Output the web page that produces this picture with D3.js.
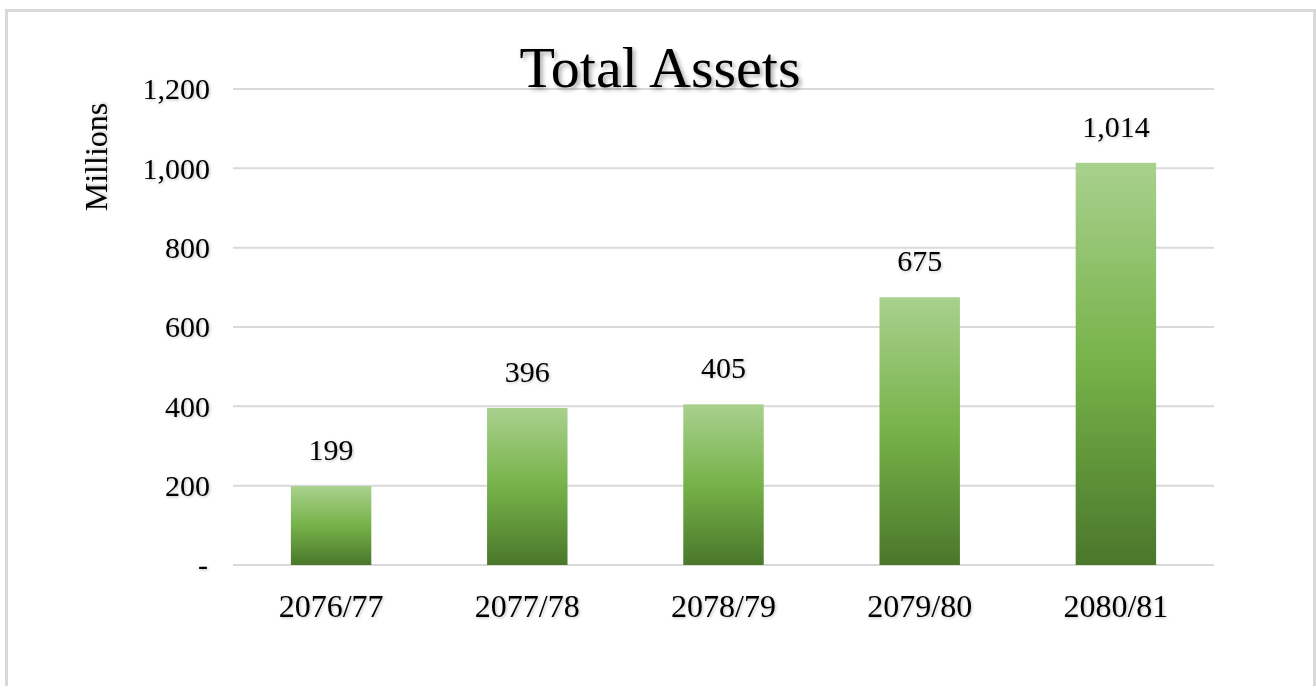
<!DOCTYPE html>
<html>
<head>
<meta charset="utf-8">
<script src="https://cdn.jsdelivr.net/npm/d3@7/dist/d3.min.js"></script>
<style>
  html, body { margin: 0; padding: 0; background: #ffffff; }
  svg { display: block; }
  text { font-family: "Liberation Serif", "DejaVu Serif", serif; fill: #000; }
</style>
</head>
<body>
<svg id="chart" width="1316" height="686"></svg>
<script>
const categories = ["2076/77", "2077/78", "2078/79", "2079/80", "2080/81"];
const values = [199, 396, 405, 675, 1014];
const yTicks = [0, 200, 400, 600, 800, 1000, 1200];
const titleText = "Total Assets";
const yAxisTitle = "Millions";

const W = 1316, H = 686;
const margin = { left: 233, right: 102, top: 89, bottom: 121 };
const svg = d3.select("#chart");

const defs = svg.append("defs");
const grad = defs.append("linearGradient")
  .attr("id", "barGrad").attr("x1", 0).attr("y1", 0).attr("x2", 0).attr("y2", 1);
grad.append("stop").attr("offset", "0%").attr("stop-color", "#a9d18e");
grad.append("stop").attr("offset", "50%").attr("stop-color", "#76b249");
grad.append("stop").attr("offset", "100%").attr("stop-color", "#4a772b");

const fTitle = defs.append("filter").attr("id", "shTitle")
  .attr("x", "-10%").attr("y", "-20%").attr("width", "130%").attr("height", "150%");
fTitle.append("feDropShadow").attr("dx", 2.5).attr("dy", 2.5).attr("stdDeviation", 2)
  .attr("flood-color", "#000").attr("flood-opacity", 0.35);
const fText = defs.append("filter").attr("id", "shText")
  .attr("x", "-20%").attr("y", "-30%").attr("width", "150%").attr("height", "170%");
fText.append("feDropShadow").attr("dx", 1).attr("dy", 1).attr("stdDeviation", 1.5)
  .attr("flood-color", "#000").attr("flood-opacity", 0.25);

// chart border
svg.append("rect")
  .attr("x", 6.5).attr("y", 10.5).attr("width", 1308).attr("height", 700)
  .attr("fill", "none").attr("stroke", "#d9d9d9").attr("stroke-width", 3);

const x = d3.scaleBand().domain(categories)
  .range([margin.left, W - margin.right]).paddingInner(0.59).paddingOuter(0.295);
const y = d3.scaleLinear().domain([0, 1200]).range([H - margin.bottom, margin.top]);

// gridlines
svg.append("g").selectAll("line").data(yTicks).join("line")
  .attr("x1", margin.left).attr("x2", W - margin.right)
  .attr("y1", d => y(d)).attr("y2", d => y(d))
  .attr("stroke", "#d9d9d9").attr("stroke-width", 2);

// y axis labels
const yAxis = d3.axisLeft(y).tickValues(yTicks).tickSize(0).tickPadding(23)
  .tickFormat(d => d === 0 ? "-" : d3.format(",")(d));
const gy = svg.append("g").attr("transform", `translate(${margin.left},0)`).call(yAxis);
gy.select(".domain").remove();
gy.selectAll("text")
  .attr("font-family", "Liberation Serif").attr("font-size", 30).attr("fill", "#000")
  .attr("dy", "0.33em").attr("filter", "url(#shText)");
gy.selectAll(".tick").filter(d => d === 0).select("text").attr("x", -25);

// bars
svg.append("g").selectAll("rect").data(values).join("rect")
  .attr("x", (d, i) => x(categories[i]))
  .attr("width", x.bandwidth())
  .attr("y", d => y(d))
  .attr("height", d => y(0) - y(d))
  .attr("fill", "url(#barGrad)");

// data labels
svg.append("g").selectAll("text").data(values).join("text")
  .attr("x", (d, i) => x(categories[i]) + x.bandwidth() / 2)
  .attr("y", d => y(d) - 26)
  .attr("text-anchor", "middle")
  .attr("font-size", 30)
  .attr("filter", "url(#shText)")
  .text(d => d3.format(",")(d));

// x axis labels
const xAxis = d3.axisBottom(x).tickSize(0).tickPadding(29);
const gx = svg.append("g").attr("transform", `translate(0,${y(0)})`).call(xAxis);
gx.select(".domain").remove();
gx.selectAll("text")
  .attr("font-family", "Liberation Serif").attr("font-size", 32).attr("fill", "#000")
  .attr("dy", "0.71em").attr("filter", "url(#shText)");

// y axis title
svg.append("text")
  .attr("transform", `translate(107,157) rotate(-90)`)
  .attr("text-anchor", "middle")
  .attr("font-size", 32)
  .attr("filter", "url(#shText)")
  .text(yAxisTitle);

// title
svg.append("text")
  .attr("x", 660).attr("y", 87)
  .attr("text-anchor", "middle")
  .attr("font-size", 58)
  .attr("filter", "url(#shTitle)")
  .text(titleText);
</script>
</body>
</html>
